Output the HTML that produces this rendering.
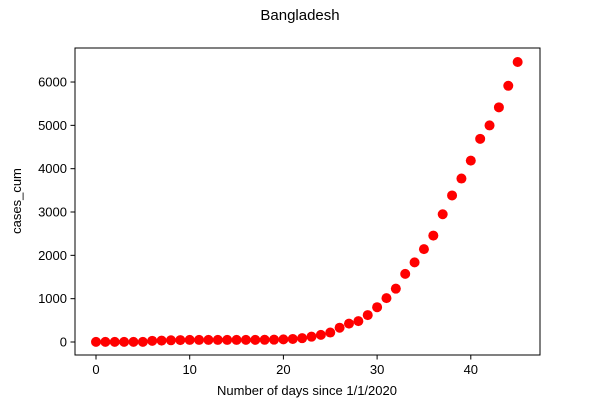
<!DOCTYPE html>
<html><head><meta charset="utf-8"><style>
body{margin:0;background:#fff;}
svg{display:block;font-family:"Liberation Sans","DejaVu Sans",sans-serif;}
</style></head><body>
<svg id="chart" width="600" height="400">
<text x="300" y="20" text-anchor="middle" font-size="15">Bangladesh</text>
<rect x="75" y="48" width="465" height="307" fill="none" stroke="#000" stroke-width="1"/>
<g id="xt"></g><g id="yt"></g><g id="pts"></g>
<text x="307" y="395" text-anchor="middle" font-size="13">Number of days since 1/1/2020</text>
<text x="0" y="0" transform="translate(21,201) rotate(-90)" text-anchor="middle" font-size="13">cases_cum</text>
</svg>
<script>
const days=[0,1,2,3,4,5,6,7,8,9,10,11,12,13,14,15,16,17,18,19,20,21,22,23,24,25,26,27,28,29,30,31,32,33,34,35,36,37,38,39,40,41,42,43,44,45];
const cases=[3,3,3,3,3,3,27,33,39,44,48,48,48,48,48,48,49,49,51,54,61,70,88,123,164,218,330,424,482,621,803,1012,1231,1572,1838,2144,2456,2948,3382,3772,4186,4689,4998,5416,5913,6462];
const xTicks=[0,10,20,30,40];
const yTicks=[0,1000,2000,3000,4000,5000,6000];
const xs=d=>96+d*9.37;
const ys=v=>342-v*0.04333;
const NS="http://www.w3.org/2000/svg";
function mk(t,a,p){const e=document.createElementNS(NS,t);for(const k in a)e.setAttribute(k,a[k]);p.appendChild(e);return e;}
const xt=document.getElementById('xt'),yt=document.getElementById('yt'),pts=document.getElementById('pts');
xTicks.forEach(v=>{const x=xs(v);
const l=mk('line',{x1:x,x2:x,y1:355,y2:359.5,stroke:'#000'},xt);


const t=mk('text',{x:x,y:374,'text-anchor':'middle','font-size':13},xt);t.textContent=v;

});
yTicks.forEach(v=>{const y=ys(v);
const l=mk('line',{x1:70.5,x2:75,y1:y,y2:y,stroke:'#000'},yt);


const t=mk('text',{x:67,y:y+4.5,'text-anchor':'end','font-size':13},yt);t.textContent=v;

});
days.forEach((d,i)=>{const c=mk('circle',{cx:xs(d),cy:ys(cases[i]),r:5,fill:'#f00'},pts);

});
</script>
</body></html>
